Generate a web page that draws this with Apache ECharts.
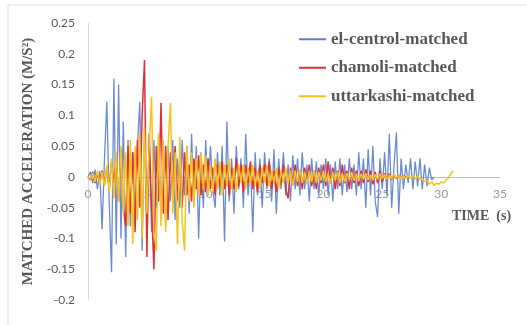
<!DOCTYPE html>
<html>
<head>
<meta charset="utf-8">
<script src="https://cdn.jsdelivr.net/npm/echarts@6/dist/echarts.min.js"></script>
<style>
	html, body { margin: 0; padding: 0; background: #fff; }
	#chart { width: 527px; height: 325px; }
</style>
</head>
<body>
<div id="chart"></div>
<script>
	// sampling step of the records (s)
	const dt = 0.2

	const seriesNames = ["el-centrol-matched", "chamoli-matched", "uttarkashi-matched"]
	const xTicks = [0, 5, 10, 15, 20, 25, 30, 35]
	const yTicks = [-0.2, -0.15, -0.1, -0.05, 0, 0.05, 0.1, 0.15, 0.2, 0.25]

	const elCentro = [
		0, 0.008, -0.01, 0.012, -0.02, 0.01, -0.085, 0.03, 0.122, -0.04,
		-0.155, 0.16, -0.11, 0.15, -0.1, 0.09, -0.13, 0.06, -0.08, 0.04,
		-0.06, 0.05, 0.122, -0.12, 0.08, -0.07, 0.05, -0.09, 0.06, -0.05,
		0.07, -0.06, 0.04, -0.08, 0.05, -0.04, 0.06, -0.07, 0.03, -0.05,
		0.06, -0.03, 0.05, -0.06, 0.07, -0.04, 0.05, -0.1, 0.04, -0.05,
		0.06, -0.03, 0.05, -0.02, -0.05, 0.04, -0.03, 0.05, -0.105, 0.09,
		-0.04, 0.03, -0.06, 0.05, -0.02, 0.03, -0.05, 0.07, -0.03, 0.02,
		-0.09, 0.04, -0.03, 0.03, -0.05, 0.04, -0.02, 0.03, -0.04, 0.045,
		-0.06, 0.03, -0.02, 0.04, -0.03, 0.02, -0.04, 0.035, -0.02, 0.03,
		-0.03, 0.04, -0.02, 0.02, -0.04, 0.03, -0.02, 0.025, -0.03, 0.02,
		-0.02, 0.03, -0.03, 0.02, -0.04, 0.025, -0.02, 0.03, -0.03, 0.02,
		-0.025, 0.03, -0.02, 0.02, -0.03, 0.04, -0.02, 0.03, -0.05, 0.045,
		-0.03, 0.05, -0.04, -0.065, 0.03, -0.02, 0.04, -0.03, 0.07, -0.05,
		0.02, 0.072, -0.06, 0.03, -0.02, 0.02, -0.01, 0.03, -0.02, 0.025,
		-0.015, 0.03, -0.02, 0.02, -0.015, 0.015, -0.005, 0
	]

	const chamoli = [
		0, -0.005, 0.008, -0.01, 0.005, -0.008, 0.01, -0.012, 0.015, -0.02,
		0.025, -0.01, 0.03, -0.04, 0.045, -0.05, -0.08, 0.05, -0.06, 0.04,
		-0.09, 0.06, -0.05, 0.1, 0.19, -0.13, 0.07, -0.05, -0.15, 0.05,
		-0.04, 0.12, -0.06, 0.05, -0.07, 0.04, -0.03, 0.05, -0.04, 0.03,
		-0.05, 0.04, -0.03, 0.02, -0.04, 0.03, -0.02, 0.035, -0.03, 0.02,
		-0.025, 0.03, -0.02, 0.015, -0.03, 0.02, -0.015, 0.025, -0.02, 0.02,
		-0.03, 0.015, -0.02, 0.03, -0.015, 0.02, -0.025, 0.02, -0.01, 0.025,
		-0.02, 0.015, -0.025, 0.02, -0.01, 0.02, -0.015, 0.025, -0.02, 0.01,
		-0.025, 0.015, -0.01, 0.02, -0.02, -0.035, 0.015, -0.01, 0.02, -0.015,
		0.01, -0.02, 0.015, -0.01, 0.02, -0.015, 0.01, -0.02, 0.015, -0.01,
		0.02, -0.015, 0.025, -0.01, 0.015, -0.02, 0.01, -0.015, 0.02, -0.01,
		0.01, -0.02, 0.015, -0.01, 0.01, -0.015, 0.01, -0.01, 0.012, -0.008,
		0.01, -0.012, 0.008, -0.01, 0.01, -0.008, 0.006, -0.006, 0.005, -0.004,
		0.004, -0.003, 0.003, -0.002, 0.002, 0
	]

	const uttarkashi = [
		0, -0.004, 0.006, -0.008, 0.01, -0.012, 0.008, -0.015, 0.02, -0.025,
		0.03, -0.035, 0.04, -0.04, 0.05, -0.06, 0.04, -0.08, 0.06, -0.11,
		0.05, -0.07, 0.07, -0.1, 0.08, -0.06, 0.05, 0.13, -0.09, -0.12,
		0.07, -0.08, 0.06, -0.09, 0.05, 0.12, -0.06, 0.04, -0.11, 0.065,
		-0.07, -0.12, 0.05, -0.04, 0.04, -0.05, 0.03, -0.03, 0.04, -0.02,
		0.035, -0.03, 0.02, -0.025, 0.03, -0.02, 0.025, -0.03, 0.02, -0.015,
		0.03, -0.02, 0.015, -0.025, 0.02, -0.01, 0.02, -0.02, 0.015, -0.01,
		0.02, -0.015, 0.01, -0.02, 0.015, -0.01, 0.02, -0.015, 0.01, -0.01,
		0.015, -0.02, 0.01, -0.01, 0.015, -0.01, 0.01, -0.015, 0.01, -0.008,
		0.012, -0.01, 0.008, -0.012, 0.01, -0.008, 0.01, -0.01, 0.008, -0.006,
		0.01, -0.008, 0.006, -0.01, 0.008, -0.006, 0.008, -0.01, 0.006, -0.008,
		0.006, -0.005, 0.008, -0.006, 0.005, -0.007, 0.005, -0.004, 0.006, -0.005,
		0.004, -0.006, 0.004, -0.004, 0.005, -0.003, 0.004, -0.004, 0.003, -0.003,
		0.004, -0.002, 0.003, -0.003, 0.002, -0.003, 0.002, -0.002, 0.003, -0.004,
		0.002, -0.005, -0.003, -0.008, -0.006, -0.012, -0.008, -0.014, -0.01, -0.012,
		-0.008, -0.01, -0.005, -0.002, 0.004, 0.01
	]

	function toPoints(values) {
		return values.map((v, i) => [+(i * dt).toFixed(1), v])
	}

	const serif = "'Liberation Serif', 'DejaVu Serif', serif"
	const colors = ["#5b80cf", "#e0303a", "#f7c31c"]

	const chart = echarts.init(document.getElementById("chart"))
	chart.setOption({
		animation: false,
		color: colors,
		grid: {
			left: 88,
			right: 27,
			top: 23,
			bottom: 25
		},
		legend: {
			orient: "vertical",
			left: 294,
			top: 25,
			itemWidth: 27,
			itemHeight: 2,
			itemGap: 10,
			icon: "rect",
			data: seriesNames,
			textStyle: {
				fontFamily: serif,
				fontWeight: "bold",
				fontSize: 17,
				lineHeight: 18.5,
				color: "#595959"
			}
		},
		graphic: [
			{
				type: "rect",
				z: -10,
				shape: { x: 8, y: 5, width: 540, height: 340 },
				style: { fill: "none", stroke: "#e2e2e2", lineWidth: 1 }
			},
			{
				type: "text",
				left: 452,
				top: 209,
				style: {
					text: "TIME  (s)",
					font: "bold 14px " + serif,
					fill: "#595959"
				}
			}
		],
		xAxis: {
			type: "value",
			min: xTicks[0],
			max: xTicks[xTicks.length - 1],
			interval: 5,
			// sits on the y = 0 line, labels just under it
			offset: -123,
			axisLine: {
				onZero: false,
				lineStyle: { color: "#bfbfbf", width: 1 }
			},
			axisTick: { show: false },
			splitLine: { show: false },
			axisLabel: {
				margin: 11,
				fontSize: 12,
				fontFamily: "Lato",
				color: "#9a9a9a"
			}
		},
		yAxis: {
			type: "value",
			min: yTicks[0],
			max: yTicks[yTicks.length - 1],
			interval: 0.05,
			name: "MATCHED ACCELERATION (M/S²)",
			nameLocation: "middle",
			nameGap: 48,
			nameTextStyle: {
				fontFamily: serif,
				fontWeight: "bold",
				fontSize: 15,
				color: "#595959"
			},
			axisLine: {
				show: true,
				onZero: false,
				lineStyle: { color: "#d9d9d9", width: 1 }
			},
			axisTick: { show: false },
			splitLine: { show: false },
			axisLabel: {
				margin: 13,
				fontSize: 12,
				fontFamily: "Lato",
				color: "#595959"
			}
		},
		series: [
			{
				name: seriesNames[0],
				type: "line",
				symbol: "none",
				data: toPoints(elCentro),
				lineStyle: { width: 1.3, opacity: 0.9 }
			},
			{
				name: seriesNames[1],
				type: "line",
				symbol: "none",
				data: toPoints(chamoli),
				lineStyle: { width: 1.5 }
			},
			{
				name: seriesNames[2],
				type: "line",
				symbol: "none",
				data: toPoints(uttarkashi),
				lineStyle: { width: 1.5 }
			}
		]
	})
</script>
</body>
</html>
